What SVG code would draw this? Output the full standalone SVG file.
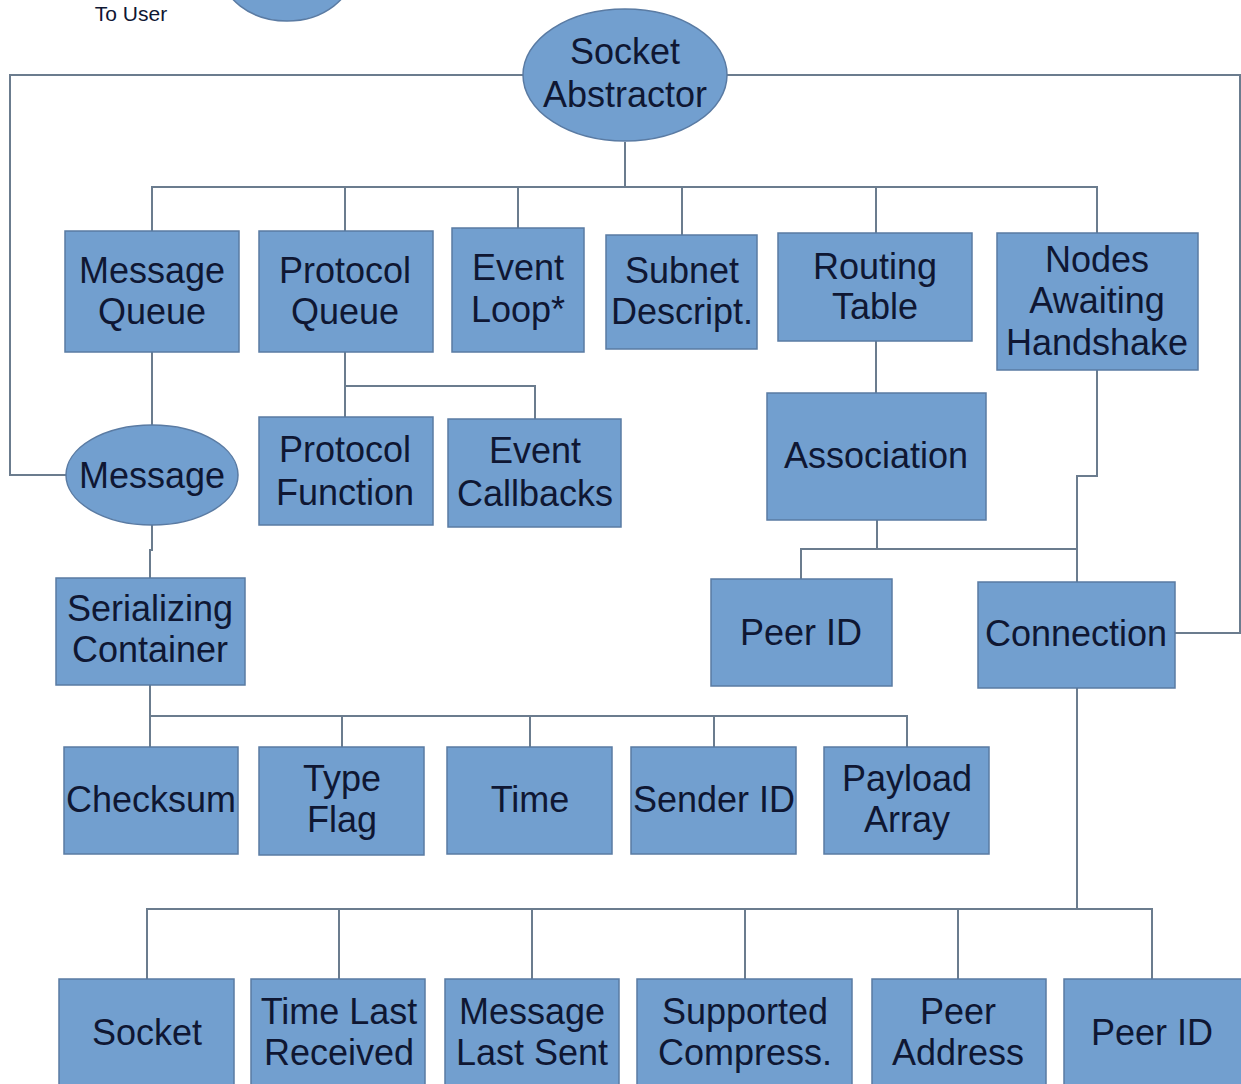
<svg xmlns="http://www.w3.org/2000/svg" width="1241" height="1084" viewBox="0 0 1241 1084">
<style>
.b{fill:#729fcf;stroke:#5a7ba3;stroke-width:1.5}
.t{font-family:"Liberation Sans",Arial,sans-serif;font-size:36px;fill:#0f1733;text-anchor:middle}
.c{fill:none;stroke:#6b7c8e;stroke-width:2}
</style>
<rect width="1241" height="1084" fill="#ffffff"/>
<g id="connectors">
<path class="c" d="M523,75 H10 V475 H66"/>
<path class="c" d="M727,75 H1240 V633 H1175"/>
<path class="c" d="M625,142 V187 M152,231 V187 H1097 V233 M345,187 V231 M518,187 V228 M682,187 V235 M876,187 V233"/>
<path class="c" d="M152,352 V425"/>
<path class="c" d="M345,352 V417 M345,386 H535 V419"/>
<path class="c" d="M152,525 V550 H150 V578"/>
<path class="c" d="M150,685 V716 H907 V747 M150,716 V747 M342,716 V747 M530,716 V747 M714,716 V747"/>
<path class="c" d="M876,341 V393"/>
<path class="c" d="M877,520 V549 M801,579 V549 H1077 V582"/>
<path class="c" d="M1097,370 V476 H1077 V549"/>
<path class="c" d="M1077,688 V909 M147,979 V909 H1152 V979 M339,909 V979 M532,909 V979 M745,909 V979 M958,909 V979"/>
</g>
<g id="to-user"><text x="131" y="21" class="t" style="font-size:21px">To User</text></g>
<g id="user-ellipse"><ellipse class="b" cx="287" cy="-30" rx="66" ry="51"/></g>
<g id="socket-abstractor"><ellipse class="b" cx="625" cy="75" rx="102" ry="66"/><text class="t" x="625" y="64">Socket</text><text class="t" x="625" y="107">Abstractor</text></g>
<g id="message-queue"><rect class="b" x="65" y="231" width="174" height="121"/><text class="t" x="152" y="283">Message</text><text class="t" x="152" y="324">Queue</text></g>
<g id="protocol-queue"><rect class="b" x="259" y="231" width="174" height="121"/><text class="t" x="345" y="283">Protocol</text><text class="t" x="345" y="324">Queue</text></g>
<g id="event-loop"><rect class="b" x="452" y="228" width="132" height="124"/><text class="t" x="518" y="280">Event</text><text class="t" x="518" y="322">Loop*</text></g>
<g id="subnet"><rect class="b" x="606" y="235" width="151" height="114"/><text class="t" x="682" y="283">Subnet</text><text class="t" x="682" y="324">Descript.</text></g>
<g id="routing-table"><rect class="b" x="778" y="233" width="194" height="108"/><text class="t" x="875" y="279">Routing</text><text class="t" x="875" y="319">Table</text></g>
<g id="nodes-awaiting"><rect class="b" x="997" y="233" width="201" height="137"/><text class="t" x="1097" y="272">Nodes</text><text class="t" x="1097" y="313">Awaiting</text><text class="t" x="1097" y="355">Handshake</text></g>
<g id="message"><ellipse class="b" cx="152" cy="475" rx="86" ry="50"/><text class="t" x="152" y="488">Message</text></g>
<g id="protocol-function"><rect class="b" x="259" y="417" width="174" height="108"/><text class="t" x="345" y="462">Protocol</text><text class="t" x="345" y="505">Function</text></g>
<g id="event-callbacks"><rect class="b" x="448" y="419" width="173" height="108"/><text class="t" x="535" y="463">Event</text><text class="t" x="535" y="506">Callbacks</text></g>
<g id="association"><rect class="b" x="767" y="393" width="219" height="127"/><text class="t" x="876" y="468">Association</text></g>
<g id="serializing-container"><rect class="b" x="56" y="578" width="189" height="107"/><text class="t" x="150" y="621">Serializing</text><text class="t" x="150" y="662">Container</text></g>
<g id="peer-id-assoc"><rect class="b" x="711" y="579" width="181" height="107"/><text class="t" x="801" y="645">Peer ID</text></g>
<g id="connection"><rect class="b" x="978" y="582" width="197" height="106"/><text class="t" x="1076" y="646">Connection</text></g>
<g id="checksum"><rect class="b" x="64" y="747" width="174" height="107"/><text class="t" x="151" y="812">Checksum</text></g>
<g id="type-flag"><rect class="b" x="259" y="747" width="165" height="108"/><text class="t" x="342" y="791">Type</text><text class="t" x="342" y="832">Flag</text></g>
<g id="time"><rect class="b" x="447" y="747" width="165" height="107"/><text class="t" x="530" y="812">Time</text></g>
<g id="sender-id"><rect class="b" x="631" y="747" width="165" height="107"/><text class="t" x="714" y="812">Sender ID</text></g>
<g id="payload-array"><rect class="b" x="824" y="747" width="165" height="107"/><text class="t" x="907" y="791">Payload</text><text class="t" x="907" y="832">Array</text></g>
<g id="socket"><rect class="b" x="59" y="979" width="175" height="110"/><text class="t" x="147" y="1045">Socket</text></g>
<g id="time-last-received"><rect class="b" x="251" y="979" width="174" height="110"/><text class="t" x="339" y="1024">Time Last</text><text class="t" x="339" y="1065">Received</text></g>
<g id="message-last-sent"><rect class="b" x="445" y="979" width="174" height="110"/><text class="t" x="532" y="1024">Message</text><text class="t" x="532" y="1065">Last Sent</text></g>
<g id="supported-compress"><rect class="b" x="637" y="979" width="215" height="110"/><text class="t" x="745" y="1024">Supported</text><text class="t" x="745" y="1065">Compress.</text></g>
<g id="peer-address"><rect class="b" x="872" y="979" width="174" height="110"/><text class="t" x="958" y="1024">Peer</text><text class="t" x="958" y="1065">Address</text></g>
<g id="peer-id-conn"><rect class="b" x="1064" y="979" width="180" height="110"/><text class="t" x="1152" y="1045">Peer ID</text></g>
</svg>
